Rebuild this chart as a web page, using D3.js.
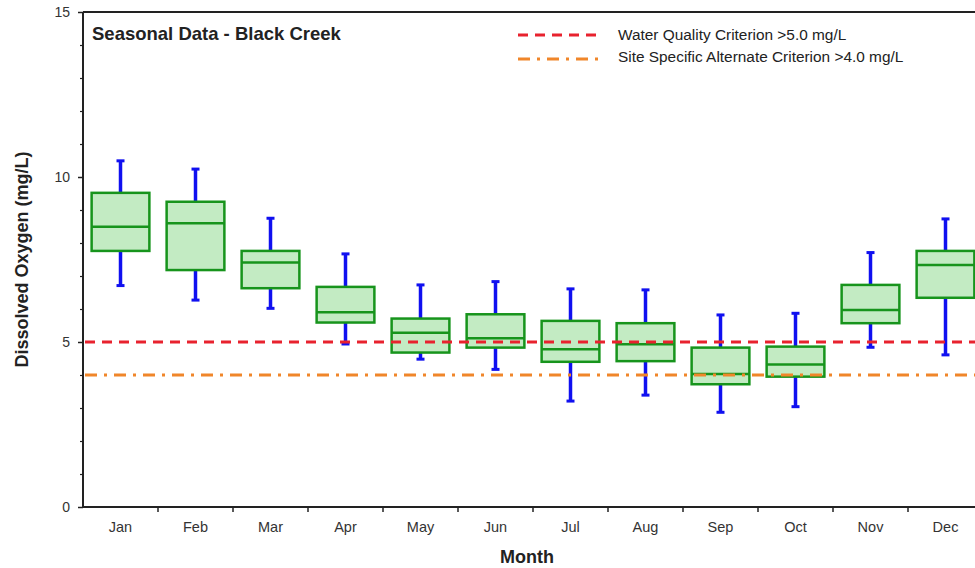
<!DOCTYPE html>
<html>
<head>
<meta charset="utf-8">
<script src="https://cdn.jsdelivr.net/npm/d3@7"></script>
<style>
  body { margin: 0; background: #fff; }
  svg { font-family: "Liberation Sans", Arial, sans-serif; }
</style>
</head>
<body>
<svg id="chart"></svg>
<script>
const months = ['Jan', 'Feb', 'Mar', 'Apr', 'May', 'Jun', 'Jul', 'Aug', 'Sep', 'Oct', 'Nov', 'Dec']
const whiskerLow = [6.71, 6.27, 6.02, 4.94, 4.48, 4.17, 3.21, 3.39, 2.87, 3.04, 4.84, 4.61]
const q1 = [7.76, 7.18, 6.63, 5.59, 4.68, 4.83, 4.40, 4.42, 3.72, 3.95, 5.57, 6.34]
const median = [8.49, 8.60, 7.41, 5.90, 5.28, 5.11, 4.78, 4.93, 4.03, 4.32, 5.97, 7.33]
const q3 = [9.52, 9.25, 7.76, 6.67, 5.71, 5.84, 5.64, 5.57, 4.83, 4.86, 6.73, 7.76]
const whiskerHigh = [10.49, 10.24, 8.75, 7.67, 6.73, 6.83, 6.61, 6.58, 5.82, 5.87, 7.71, 8.73]
const yTicks = [0, 5, 10, 15]
const criteria = [
    {value: 5.0, label: 'Water Quality Criterion >5.0 mg/L', color: '#e8222e', dash: '10,7'},
    {value: 4.0, label: 'Site Specific Alternate Criterion >4.0 mg/L', color: '#f0862a', dash: '12,7,3,7'}
]

const width = 975, height = 568
const margin = {top: 12, right: -8, bottom: 61, left: 83}

const svg = d3.select('#chart').attr('width', width).attr('height', height)

const x = d3.scaleBand().domain(months)
    .range([margin.left, width - margin.right]).paddingInner(0).paddingOuter(0)
const y = d3.scaleLinear().domain([0, 15]).range([height - margin.bottom, margin.top])

const data = months.map((m, i) => ({
    month: m, lo: whiskerLow[i], q1: q1[i], med: median[i], q3: q3[i], hi: whiskerHigh[i]
}))

/* axes */
svg.append('g')
    .attr('transform', `translate(${margin.left},0)`)
    .call(d3.axisLeft(y).tickValues(yTicks).tickSize(5).tickPadding(8))
    .call(g => g.select('.domain').remove())
    .call(g => g.selectAll('line').attr('stroke', '#222').attr('stroke-width', 1.5))
    .call(g => g.selectAll('text').attr('font-size', 14).attr('fill', '#333'))

svg.append('g')
    .attr('transform', `translate(${margin.left},0)`)
    .call(d3.axisLeft(y).tickValues(d3.range(0, 16).filter(v => v % 5)).tickSize(3).tickFormat(''))
    .call(g => g.select('.domain').remove())
    .call(g => g.selectAll('line').attr('stroke', '#222').attr('stroke-width', 1.2))

svg.append('line')
    .attr('x1', margin.left).attr('x2', margin.left)
    .attr('y1', y(15)).attr('y2', y(0))
    .attr('stroke', '#222').attr('stroke-width', 2)

svg.append('line')
    .attr('x1', margin.left).attr('x2', width)
    .attr('y1', y(15)).attr('y2', y(15))
    .attr('stroke', '#222').attr('stroke-width', 2)

const xAxis = svg.append('g').attr('transform', `translate(0,${y(0)})`)
xAxis.append('line')
    .attr('x1', margin.left).attr('x2', width)
    .attr('stroke', '#222').attr('stroke-width', 2)
xAxis.selectAll('line.tick')
    .data(months.slice(1))
    .enter().append('line')
    .attr('class', 'tick')
    .attr('x1', d => x(d)).attr('x2', d => x(d))
    .attr('y1', 0).attr('y2', 5)
    .attr('stroke', '#222').attr('stroke-width', 1.5)
xAxis.selectAll('text')
    .data(months)
    .enter().append('text')
    .attr('x', d => x(d) + x.bandwidth() / 2)
    .attr('y', 25)
    .attr('text-anchor', 'middle')
    .attr('font-size', 14.5).attr('fill', '#333')
    .text(d => d)

/* boxes */
const bw = x.bandwidth() * 0.77
const cap = 8
const g = svg.selectAll('g.box')
    .data(data)
    .enter().append('g')
    .attr('class', 'box')
    .attr('transform', d => `translate(${x(d.month) + x.bandwidth() / 2},0)`)

g.append('line')
    .attr('y1', d => y(d.hi)).attr('y2', d => y(d.q3))
    .attr('stroke', '#1010f0').attr('stroke-width', 3.5)
g.append('line')
    .attr('y1', d => y(d.q1)).attr('y2', d => y(d.lo))
    .attr('stroke', '#1010f0').attr('stroke-width', 3.5)
g.append('line')
    .attr('x1', -cap / 2).attr('x2', cap / 2)
    .attr('y1', d => y(d.hi)).attr('y2', d => y(d.hi))
    .attr('stroke', '#1010f0').attr('stroke-width', 3)
g.append('line')
    .attr('x1', -cap / 2).attr('x2', cap / 2)
    .attr('y1', d => y(d.lo)).attr('y2', d => y(d.lo))
    .attr('stroke', '#1010f0').attr('stroke-width', 3)

g.append('rect')
    .attr('x', -bw / 2).attr('width', bw)
    .attr('y', d => y(d.q3))
    .attr('height', d => y(d.q1) - y(d.q3))
    .attr('fill', '#c3ebc3')
    .attr('stroke', '#17941c').attr('stroke-width', 2.5)

g.append('line')
    .attr('x1', -bw / 2).attr('x2', bw / 2)
    .attr('y1', d => y(d.med)).attr('y2', d => y(d.med))
    .attr('stroke', '#17941c').attr('stroke-width', 2.5)

/* criterion lines, drawn over the boxes */
svg.selectAll('line.crit')
    .data(criteria)
    .enter().append('line')
    .attr('class', 'crit')
    .attr('x1', margin.left + 2).attr('x2', width)
    .attr('y1', d => y(d.value)).attr('y2', d => y(d.value))
    .attr('stroke', d => d.color).attr('stroke-width', 3)
    .attr('stroke-dasharray', d => d.dash)

/* title and legend */
svg.append('text')
    .attr('x', 92).attr('y', 40)
    .attr('font-size', 18.5).attr('font-weight', 'bold').attr('fill', '#222')
    .text('Seasonal Data - Black Creek')

const leg = svg.selectAll('g.leg')
    .data(criteria)
    .enter().append('g')
    .attr('class', 'leg')
    .attr('transform', (d, i) => `translate(518,${35 + i * 24})`)
leg.append('line')
    .attr('x1', 0).attr('x2', 80)
    .attr('stroke', d => d.color).attr('stroke-width', 3)
    .attr('stroke-dasharray', d => d.dash)
leg.append('text')
    .attr('x', 100).attr('y', (d, i) => 4.5 - i * 2)
    .attr('font-size', 15.4).attr('fill', '#222')
    .text(d => d.label)

/* axis titles */
svg.append('text')
    .attr('transform', `translate(28,${(y(0) + y(15)) / 2}) rotate(-90)`)
    .attr('text-anchor', 'middle')
    .attr('font-size', 18).attr('font-weight', 'bold').attr('fill', '#222')
    .text('Dissolved Oxygen (mg/L)')

svg.append('text')
    .attr('x', 527).attr('y', 563)
    .attr('text-anchor', 'middle')
    .attr('font-size', 18).attr('font-weight', 'bold').attr('fill', '#222')
    .text('Month')
</script>
</body>
</html>
